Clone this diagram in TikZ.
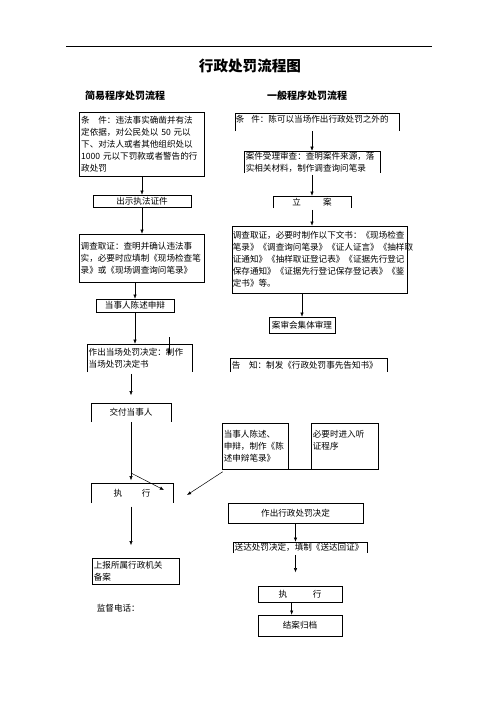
\documentclass[tikz,border=0pt]{standalone}
\usepackage{fontspec}
\setmainfont{Noto Sans CJK SC}
\usepackage{tikz}
\usetikzlibrary{calc, arrows.meta}

\tikzset{
	txt/.style = {inner xsep = 2pt, inner ysep = 1pt, font = \fontsize{10.3}{14.4}\selectfont},
	box/.style = {txt, draw, line width = 0.7pt},
	arr/.style = {-{Latex[length = 5pt, width = 4pt]}, line width = 0.6pt},
}
\newcommand{\openbox}[2][0]{\draw [line width = 0.7pt] ($ (#2.south west) + (0,#1) $) -- (#2.north west) -- (#2.north east) -- ($ (#2.south east) + (0,#1) $);}

\begin{document}
\begin{tikzpicture}[x = 1.2pt, y = -1.2pt]
			\fill [white] (0,0) rectangle (496,702);
			\useasboundingbox (0,0) rectangle (496,702);

			\draw [line width = 0.8pt] (66,46) -- (432,46);
			\node (title) at (250,66) {\fontsize{17.5}{20}\selectfont\bfseries 行政处罚流程图};
			\node (simple) at (125,96) {\fontsize{12}{14}\selectfont\bfseries 简易程序处罚流程};
			\node (general) at (307,96) {\fontsize{12}{14}\selectfont\bfseries 一般程序处罚流程};

			\begin{scope}
				\node [box, text width = 146pt, align = left, minimum height = 76.8pt] (l1) at (142,144) {条\hspace{1em}件：违法事实确凿并有法\\定依据，对公民处以 50 元以\\下、对法人或者其他组织处以\\1000 元以下罚款或者警告的行\\政处罚};
				\node [box, minimum width = 117.6pt, minimum height = 14.4pt] (l2) at (142,201) {出示执法证件};
				\node [box, text width = 146pt, align = left, minimum height = 57.6pt] (l3) at (141.5,258) {调查取证：查明并确认违法事\\实，必要时应填制《现场检查笔\\录》或《现场调查询问笔录》};
				\node [box, minimum width = 93.6pt, minimum height = 15.6pt] (l4) at (135,305.5) {当事人陈述申辩};
				\node [txt, text width = 122pt, align = left, minimum height = 33.6pt] (l5) at (139.5,358) {作出当场处罚决定：制作\\当场处罚决定书};
				\openbox{l5}
				\node [txt, minimum width = 96pt, minimum height = 22.8pt] (l6) at (131,412.5) {交付当事人};
				\openbox{l6}
				\node [txt, minimum width = 98.4pt, minimum height = 24pt] (l7) at (132,493) {执\hspace{2.3em}行};
				\openbox{l7}
				\node [box, text width = 100pt, align = left, minimum height = 31.2pt] (l8) at (135.5,571) {上报所属行政机关\\备案};
				\node [txt, anchor = west] (phone) at (95,608) {监督电话：};
			\end{scope}

			\begin{scope}
				\node [txt, inner xsep = 1pt, text width = 194.8pt, align = left, minimum height = 14.4pt] (r1) at (317,119) {条\hspace{0.8em}件：陈可以当场作出行政处罚之外的};
				\openbox[6]{r1}
				\node [txt, text width = 159pt, align = left, minimum height = 25pt] (r2) at (312,162) {案件受理审查：查明案件来源，落\\实相关材料，制作调查询问笔录};
				\openbox{r2}
				\node [txt, minimum width = 93.6pt, minimum height = 14.4pt] (r3) at (312,202) {立\hspace{2.6em}案};
				\openbox{r3}
				\node [box, inner xsep = 1pt, text width = 208pt, align = left, minimum height = 80.4pt] (r4) at (319.5,259.5) {调查取证，必要时制作以下文书：《现场检查\\笔录》《调查询问笔录》《证人证言》《抽样取\\证通知》《抽样取证登记表》《证据先行登记\\保存通知》《证据先行登记保存登记表》《鉴\\定书》等。};
				\node [box, minimum width = 79.2pt, minimum height = 19.2pt] (r5) at (302,325) {案审会集体审理};
				\node [txt, text width = 184pt, align = left, minimum height = 16.8pt] (r6) at (308.5,365) {告\hspace{1em}知：制发《行政处罚事先告知书》};
				\openbox{r6}
				\node [box, text width = 75pt, align = left, minimum height = 55.2pt] (r7) at (255,446) {当事人陈述、\\申辩，制作《陈\\述申辩笔录》};
				\node [box, text width = 76pt, align = left, minimum height = 55.2pt] (r8) at (344.5,446) {必要时进入听\\证程序\\\mbox{}};
				\node [box, minimum width = 162pt, minimum height = 24pt] (r9) at (295.5,513) {作出行政处罚决定};
				\node [txt, text width = 156.8pt, align = left, minimum height = 13.2pt] (r10) at (300,547.5) {送达处罚决定，填制《送达回证》};
				\openbox{r10}
				\node [box, minimum width = 100.8pt, minimum height = 19.2pt] (r11) at (300,594) {执\hspace{3em}行};
				\node [box, minimum width = 100.8pt, minimum height = 25.2pt] (r12) at (300,625.5) {结案归档};
			\end{scope}

			\coordinate (s1) at (169,337);
			\coordinate (s2) at (169,355);
			\coordinate (d1s) at (131,473);
			\coordinate (d1e) at (164,490);
			\coordinate (d2e) at (187,495);

			\begin{scope}[arr]
				\draw (l1.south) -- (l2.north);
				\draw (l2.south) -- (l2.south |- l3.north);
				\draw (l4.north |- l3.south) -- (l4.north);
				\draw (l4.south) -- (l4.south |- l5.north);
				\draw (s1) -- (s2);
				\draw [shorten < = 2pt, shorten > = 9pt] (l6.north |- l5.south) -- (l6.north);
				\draw [shorten > = 3pt] (l6.south) -- (l6.south |- l7.north);
				\draw (d1s) -- (d1e);
				\draw ([shift = {(1pt,-3pt)}] r7.south west) -- (d2e);
				\draw [shorten < = 4pt, shorten > = 15pt] (l7.south -| l6) -- (l6 |- l8.north);

				\draw ($ (r2.north |- r1.south) + (0,6) $) -- (r2.north);
				\draw [shorten < = 2pt] (r2.south -| r3.north) -- (r3.north);
				\draw [shorten < = 2pt] (r3.south) -- (r3.south |- r4.north);
				\draw (r5.north |- r4.south) -- (r5.north);
				\draw (r9.south) -- (r9.south |- r10.north);
				\draw [shorten < = 2pt, shorten > = 16pt] (r10.south -| r9) -- (r11.north -| r9);
				\draw ([xshift = -10pt] r11.south) -- ([xshift = -10pt] r12.north);
			\end{scope}
			\draw [line width = 0.7pt] (r7.south east) -- (r8.south west);
		\end{tikzpicture}
\end{document}
